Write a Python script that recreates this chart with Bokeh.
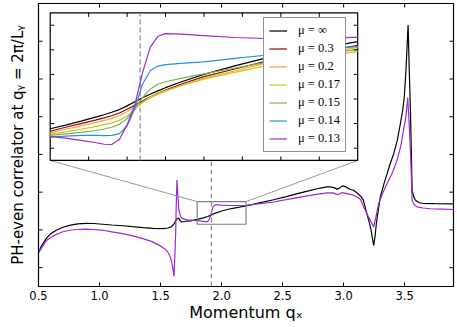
import math
from bokeh.plotting import figure
from bokeh.models import Range1d, FixedTicker, PrintfTickFormatter, Legend, LegendItem
from bokeh.embed import file_html
from bokeh.resources import INLINE

# ---------------- data ----------------
main_x_inf = [0.503, 0.52, 0.563, 0.60, 0.645, 0.70, 0.754, 0.82, 0.891, 0.95, 1.028, 1.10, 1.19, 1.27,
              1.356, 1.44, 1.52, 1.56, 1.588, 1.61, 1.629, 1.645, 1.66, 1.675, 1.71, 1.75, 1.80, 1.843,
              1.887, 1.92, 1.95, 2.00, 2.08, 2.20, 2.30, 2.426, 2.53, 2.645, 2.72, 2.78, 2.83, 2.864,
              2.89, 2.92, 2.946, 2.96, 2.987, 3.00, 3.03, 3.055, 3.082, 3.11, 3.137, 3.16, 3.19, 3.21,
              3.225, 3.246, 3.258, 3.268, 3.285, 3.30, 3.33, 3.356, 3.38, 3.41, 3.44, 3.465, 3.485,
              3.497, 3.51, 3.528, 3.537, 3.547, 3.555, 3.561, 3.575, 3.588, 3.62, 3.656, 3.75, 3.9]
main_y_inf = [0.41, 0.55, 0.77, 0.90, 0.99, 1.07, 1.12, 1.16, 1.175, 1.17, 1.15, 1.13, 1.11, 1.085,
              1.06, 1.04, 1.035, 1.05, 1.08, 1.16, 1.27, 1.32, 1.25, 1.21, 1.23, 1.24, 1.279, 1.313,
              1.354, 1.405, 1.446, 1.50, 1.566, 1.633, 1.71, 1.80, 1.88, 1.98, 2.04, 2.09, 2.12, 2.14,
              2.14, 2.12, 2.08, 2.10, 2.16, 2.165, 2.12, 2.07, 2.05, 1.98, 1.90, 1.80, 1.43, 1.20,
              0.99, 0.59, 0.85, 1.17, 1.55, 1.87, 2.22, 2.49, 2.74, 3.02, 3.38, 3.82, 4.20,
              4.53, 5.20, 6.43, 5.30, 4.17, 3.00, 2.05, 1.87, 1.785, 1.72, 1.70, 1.695, 1.69]

main_x_013 = [0.503, 0.563, 0.60, 0.645, 0.70, 0.754, 0.82, 0.891, 0.95, 1.028, 1.10, 1.19, 1.27, 1.356,
              1.43, 1.49, 1.53, 1.56, 1.575, 1.588, 1.60, 1.61, 1.617, 1.623, 1.628, 1.634, 1.642, 1.65,
              1.665, 1.68, 1.72, 1.765, 1.80, 1.84, 1.88, 1.89, 1.90, 1.91, 1.92, 1.93, 1.95, 2.00,
              2.08, 2.20, 2.30, 2.426, 2.53, 2.645, 2.75, 2.864, 2.91, 2.946, 2.965, 2.987, 3.02, 3.08,
              3.12, 3.14, 3.165, 3.205, 3.23, 3.246, 3.265, 3.287, 3.32, 3.356, 3.40, 3.438, 3.47,
              3.49, 3.51, 3.525, 3.537, 3.547, 3.555, 3.561, 3.575, 3.60, 3.65, 3.71, 3.80, 3.9]
main_y_013 = [0.41, 0.71, 0.80, 0.88, 0.95, 0.99, 1.01, 1.02, 1.01, 0.99, 0.95, 0.90, 0.84, 0.77,
              0.69, 0.59, 0.51, 0.41, 0.32, 0.19, 0.0, -0.23, 0.30, 0.81, 1.60, 2.32, 1.90, 1.52,
              1.35, 1.30, 1.265, 1.25, 1.248, 1.232, 1.215, 1.235, 1.295, 1.375, 1.505, 1.61, 1.666, 1.658,
              1.646, 1.651, 1.69, 1.74, 1.80, 1.87, 1.93, 1.98, 1.98, 1.94, 1.95, 1.99, 1.97, 1.92,
              1.85, 1.80, 1.60, 1.34, 1.18, 1.08, 1.35, 1.70, 1.98, 2.23, 2.52, 2.85, 3.25,
              3.64, 4.00, 4.51, 3.80, 3.11, 2.40, 1.785, 1.68, 1.61, 1.58, 1.56, 1.55, 1.54]

inset_x = [1.80, 1.82, 1.84, 1.86, 1.87, 1.88, 1.89, 1.90, 1.91, 1.92, 1.93, 1.94, 1.95, 1.97, 2.00, 2.04, 2.08, 2.20]
inset_y_inf = [1.279, 1.294, 1.310, 1.327, 1.336, 1.346, 1.357, 1.372, 1.389, 1.405, 1.419, 1.433, 1.446, 1.469, 1.500, 1.535, 1.566, 1.633]
inset_y_030 = [1.269, 1.285, 1.300, 1.315, 1.323, 1.332, 1.343, 1.358, 1.374, 1.392, 1.408, 1.423, 1.436, 1.460, 1.491, 1.522, 1.553, 1.618]
inset_y_020 = [1.263, 1.277, 1.291, 1.305, 1.313, 1.321, 1.333, 1.348, 1.367, 1.387, 1.404, 1.419, 1.432, 1.455, 1.485, 1.514, 1.545, 1.610]
inset_y_017 = [1.257, 1.266, 1.277, 1.289, 1.296, 1.303, 1.313, 1.330, 1.357, 1.386, 1.408, 1.423, 1.434, 1.454, 1.481, 1.508, 1.535, 1.594]
inset_y_015 = [1.252, 1.258, 1.264, 1.272, 1.278, 1.285, 1.297, 1.320, 1.362, 1.405, 1.440, 1.460, 1.470, 1.484, 1.502, 1.526, 1.548, 1.602]
inset_y_014 = [1.245, 1.249, 1.252, 1.252, 1.251, 1.252, 1.259, 1.290, 1.360, 1.460, 1.515, 1.534, 1.540, 1.545, 1.551, 1.565, 1.578, 1.614]
inset_y_013 = [1.248, 1.241, 1.232, 1.222, 1.216, 1.215, 1.235, 1.295, 1.375, 1.505, 1.610, 1.655, 1.666, 1.664, 1.658, 1.650, 1.646, 1.651]

mu_labels = ["μ = ∞", "μ = 0.3", "μ = 0.2", "μ = 0.17", "μ = 0.15", "μ = 0.14", "μ = 0.13"]
mu_colors = ["#000000", "#8b0a0a", "#ff9f3f", "#c6ca10", "#7fb24f", "#2393d4", "#9b27d9"]

x_ticks = [0.5, 1.0, 1.5, 2.0, 2.5, 3.0, 3.5]
y_ticks = [0, 1, 2, 3, 4, 5, 6]
inset_x_ticks = [1.85, 1.90, 1.95, 2.00, 2.05, 2.10, 2.15]
inset_y_ticks = [1.2, 1.3, 1.4, 1.5, 1.6, 1.7]

x_title = "Momentum qₓ"
y_title = "PH-even correlator at qᵧ = 2π/Lᵧ"

main_xr = (0.5, 3.9)
main_yr = (-0.5, 7.0)
zoom_xr = (1.8, 2.2)
zoom_yr = (1.15, 1.75)
dash_x = 1.917

# where the inset sits, in main-data coordinates
inset_tx = (0.596, 3.115)
inset_ty = (2.84, 6.75)

# ---------------- figure ----------------
p = figure(width=457, height=327, x_range=Range1d(*main_xr), y_range=Range1d(*main_yr),
           output_backend="svg", toolbar_location=None,
           min_border_left=38, min_border_right=4, min_border_top=3, min_border_bottom=41)
p.background_fill_color = "white"
p.border_fill_color = "white"
p.outline_line_color = "black"
p.outline_line_width = 1.2
p.xgrid.visible = False
p.ygrid.visible = False

xa = p.xaxis[0]
xa.ticker = FixedTicker(ticks=x_ticks)
xa.formatter = PrintfTickFormatter(format="%.1f")
xa.major_tick_in = 4
xa.major_tick_out = 0
xa.minor_tick_line_color = None
xa.axis_line_color = None
xa.major_label_text_font = "DejaVu Sans"
xa.major_label_text_font_size = "11.5px"
xa.major_label_text_color = "black"
xa.major_label_standoff = 4
xa.axis_label = x_title
xa.axis_label_text_font = "DejaVu Sans"
xa.axis_label_text_font_size = "16px"
xa.axis_label_text_font_style = "normal"
xa.axis_label_text_color = "black"
xa.axis_label_standoff = 0

# y axis carries only the title; its ticks are drawn as rays below (no tick labels in the reference)
ya = p.yaxis[0]
ya.ticker = FixedTicker(ticks=[])
ya.major_tick_in = 0
ya.major_tick_out = 0
ya.minor_tick_line_color = None
ya.axis_line_color = None
ya.major_label_standoff = 0
ya.axis_label = y_title
ya.axis_label_text_font = "DejaVu Sans"
ya.axis_label_text_font_size = "15px"
ya.axis_label_text_font_style = "normal"
ya.axis_label_text_color = "black"
ya.axis_label_standoff = 12

tick_kw = dict(length=4, length_units="screen", line_color="black", line_width=1)
p.ray(x=x_ticks, y=[main_yr[1]] * len(x_ticks), angle=-math.pi / 2, **tick_kw)
p.ray(x=[main_xr[1]] * len(y_ticks), y=y_ticks, angle=math.pi, **tick_kw)
p.ray(x=[main_xr[0]] * len(y_ticks), y=y_ticks, angle=0, **tick_kw)

# main curves
p.line(main_x_inf, main_y_inf, line_color=mu_colors[0], line_width=1.2)
p.line(main_x_013, main_y_013, line_color=mu_colors[6], line_width=1.2)

# zoom rectangle, connectors, dashed marker
p.quad(left=[zoom_xr[0]], right=[zoom_xr[1]], bottom=[zoom_yr[0]], top=[zoom_yr[1]],
       fill_color=None, line_color="#808080", line_width=1.2)
p.segment(x0=[inset_tx[0], inset_tx[1]], y0=[inset_ty[0], inset_ty[0]],
          x1=[zoom_xr[0], zoom_xr[1]], y1=[zoom_yr[1], zoom_yr[1]],
          line_color="#999999", line_width=1)
p.segment(x0=[dash_x], y0=[main_yr[0]], x1=[dash_x], y1=[inset_ty[0]],
          line_color="#888888", line_width=1.2, line_dash="5 3")

# ---------------- inset ----------------
sub = p.subplot(x_source=Range1d(*zoom_xr), y_source=Range1d(*zoom_yr),
                x_target=Range1d(*inset_tx), y_target=Range1d(*inset_ty))
sub.quad(left=[zoom_xr[0]], right=[zoom_xr[1]], bottom=[zoom_yr[0]], top=[zoom_yr[1]],
         fill_color="white", line_color="black", line_width=1.2)
sub.segment(x0=[dash_x], y0=[zoom_yr[0]], x1=[dash_x], y1=[zoom_yr[1]],
            line_color="#888888", line_width=1.2, line_dash="5 3")

inset_series = [inset_y_inf, inset_y_030, inset_y_020, inset_y_017, inset_y_015, inset_y_014, inset_y_013]
items = []
for lab, col, ys in zip(mu_labels, mu_colors, inset_series):
    r = sub.line(inset_x, ys, line_color=col, line_width=1.2)
    items.append(LegendItem(label=lab, renderers=[r]))

sub.ray(x=inset_x_ticks, y=[zoom_yr[0]] * len(inset_x_ticks), angle=math.pi / 2, **tick_kw)
sub.ray(x=inset_x_ticks, y=[zoom_yr[1]] * len(inset_x_ticks), angle=-math.pi / 2, **tick_kw)
sub.ray(x=[zoom_xr[0]] * len(inset_y_ticks), y=inset_y_ticks, angle=0, **tick_kw)
sub.ray(x=[zoom_xr[1]] * len(inset_y_ticks), y=inset_y_ticks, angle=math.pi, **tick_kw)

legend = Legend(items=items, location=(225, 134), orientation="vertical",
                border_line_color="#222222", border_line_width=1.5,
                background_fill_color="white", background_fill_alpha=1.0,
                label_text_font="Liberation Serif", label_text_font_size="12.5px",
                label_text_line_height=1.0,
                label_text_color="black", glyph_width=18, glyph_height=13, label_height=13,
                spacing=3, padding=5, label_standoff=11, margin=0)
p.add_layout(legend)

open("out.html", "w").write(file_html(p, INLINE))
